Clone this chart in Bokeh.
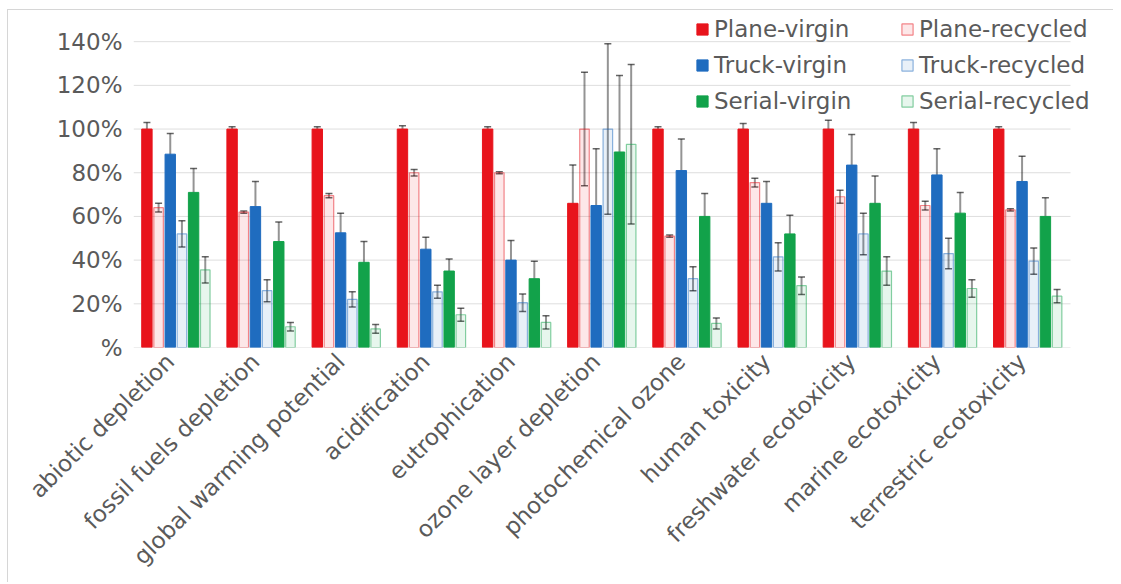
from bokeh.plotting import figure
from bokeh.models import (ColumnDataSource, Range1d, FixedTicker, Whisker, TeeHead,
                          Legend, LegendItem, Column)
from bokeh.embed import file_html
from bokeh.resources import INLINE
import math

categories = ["abiotic depletion", "fossil fuels depletion", "global warming potential",
              "acidification", "eutrophication", "ozone layer depletion",
              "photochemical ozone", "human toxicity", "freshwater ecotoxicity",
              "marine ecotoxicity", "terrestric ecotoxicity"]

plane_virgin = [100, 100, 100, 100, 100, 66, 100, 100, 100, 100, 100]
plane_virgin_err = [3, 1, 1, 1.5, 1, 17.5, 1, 2.5, 4, 3, 1]
plane_recycled = [64, 62, 69.5, 80, 80, 100, 51, 75.5, 69, 65, 63]
plane_recycled_err = [2, 0.5, 1, 1.5, 0.5, 26, 0.5, 2, 3, 2, 0.5]
truck_virgin = [88.5, 64.5, 52.5, 45, 40, 65, 81, 66, 83.5, 79, 76]
truck_virgin_err = [9.5, 11.5, 9, 5.5, 9, 26, 14.5, 10, 14, 12, 11.5]
truck_recycled = [52, 26, 22, 25.5, 20.5, 100, 31.5, 41.5, 52, 43, 39.5]
truck_recycled_err = [6, 5, 3.5, 3, 4, 39, 5.5, 6.5, 9.5, 7, 6]
serial_virgin = [71, 48.5, 39, 35, 31.5, 89.5, 60, 52, 66, 61.5, 60]
serial_virgin_err = [11, 9, 9.5, 5.5, 8, 35, 10.5, 8.5, 12.5, 9.5, 8.5]
serial_recycled = [35.5, 9.5, 8.5, 15, 11.5, 93, 11, 28.3, 35, 27, 23.5]
serial_recycled_err = [6, 2, 2, 3, 3, 36.5, 2.5, 4, 6.5, 4, 3]

y_ticks = [0, 20, 40, 60, 80, 100, 120, 140]
y_tick_labels = ["%", "20%", "40%", "60%", "80%", "100%", "120%", "140%"]

RED, BLUE, GREEN = "#e8141c", "#1f6cbf", "#12a24a"
TEXT = "#5a5a5a"
FONT = "DejaVu Sans"

series = [
    ("Plane-virgin", plane_virgin, plane_virgin_err, RED, True),
    ("Plane-recycled", plane_recycled, plane_recycled_err, RED, False),
    ("Truck-virgin", truck_virgin, truck_virgin_err, BLUE, True),
    ("Truck-recycled", truck_recycled, truck_recycled_err, BLUE, False),
    ("Serial-virgin", serial_virgin, serial_virgin_err, GREEN, True),
    ("Serial-recycled", serial_recycled, serial_recycled_err, GREEN, False),
]

n = len(categories)
px_per_cat = 937 / n
frame_w = 975
# the wrapper below offsets the canvas by (8, 10) px
p = figure(width=1105, height=572, output_backend="svg", toolbar_location=None,
           x_range=Range1d(0, frame_w / px_per_cat), y_range=Range1d(0, 152.9),
           min_border_left=125, min_border_right=5, min_border_top=3,
           min_border_bottom=235)
p.outline_line_color = None
p.background_fill_color = "white"
p.border_fill_color = "white"

# horizontal gridlines spanning only the category area
p.segment(x0=[0] * len(y_ticks), x1=[n] * len(y_ticks), y0=y_ticks, y1=y_ticks,
          line_color="#dedede", line_width=1, level="underlay")

pitch = 0.137
bw = 0.122
renderers = {}
for k, (name, vals, errs, color, solid) in enumerate(series):
    xs = [i + 0.5 + (k - 2.5) * pitch for i in range(n)]
    src = ColumnDataSource(dict(x=xs, top=vals,
                                upper=[v + e for v, e in zip(vals, errs)],
                                lower=[v - e for v, e in zip(vals, errs)]))
    if solid:
        r = p.vbar(x="x", top="top", width=bw, source=src, fill_color=color,
                   line_color=color, line_width=1)
    else:
        r = p.vbar(x="x", top="top", width=bw - 0.01, source=src, fill_color=color,
                   fill_alpha=0.1, line_color=color, line_alpha=0.5, line_width=1.2)
    renderers[name] = r
    head = dict(size=7, line_color="black", line_alpha=0.6, line_width=1.5)
    w = Whisker(source=src, base="x", upper="upper", lower="lower", dimension="height",
                line_color="black", line_alpha=0.42, line_width=2,
                upper_head=TeeHead(**head), lower_head=TeeHead(**head))
    p.add_layout(w)

# axes
label_shift = 0.07
p.xaxis.ticker = FixedTicker(ticks=[i + 0.5 - label_shift for i in range(n)])
p.xaxis.major_label_overrides = {i + 0.5 - label_shift: c for i, c in enumerate(categories)}
p.xaxis.major_label_orientation = math.pi / 4
p.xaxis.major_label_text_font = FONT
p.xaxis.major_label_text_font_size = "23px"
p.xaxis.major_label_text_color = TEXT
p.xaxis.axis_line_color = None
p.xaxis.major_tick_line_color = None
p.xaxis.minor_tick_line_color = None
p.xaxis.major_label_standoff = 4

p.yaxis.ticker = FixedTicker(ticks=y_ticks)
p.yaxis.major_label_overrides = {t: l for t, l in zip(y_ticks, y_tick_labels)}
p.yaxis.major_label_text_font = FONT
p.yaxis.major_label_text_font_size = "23px"
p.yaxis.major_label_text_color = TEXT
p.yaxis.axis_line_color = None
p.yaxis.major_tick_line_color = None
p.yaxis.minor_tick_line_color = None
p.yaxis.major_label_standoff = 5

p.xgrid.grid_line_color = None
p.ygrid.grid_line_color = None

def make_legend(names, x, y):
    lg = Legend(items=[LegendItem(label=nm, renderers=[renderers[nm]]) for nm in names],
                location=(x, y), orientation="vertical",
                label_text_font=FONT, label_text_font_size="23px", label_text_color=TEXT,
                glyph_width=14, glyph_height=14, label_height=25, spacing=10,
                label_standoff=5, padding=0, margin=0, border_line_color=None,
                background_fill_alpha=0)
    p.add_layout(lg, "center")

make_legend(["Plane-virgin", "Truck-virgin", "Serial-virgin"], 562, 233)
make_legend(["Plane-recycled", "Truck-recycled", "Serial-recycled"], 767, 233)

layout = Column(p, styles={"margin-left": "7px", "margin-top": "9px",
                           "border-left": "1px solid #d6d6d6",
                           "border-top": "1px solid #d6d6d6"})

open("out.html", "w").write(file_html(layout, INLINE))
